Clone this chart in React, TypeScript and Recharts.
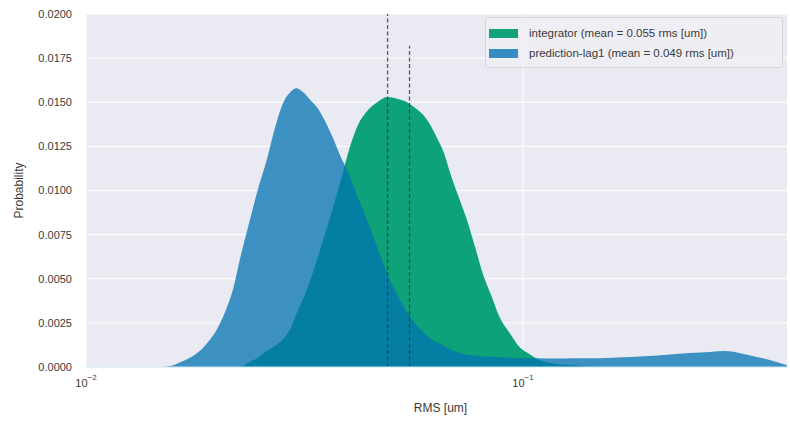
import React from 'react';
import {
  ComposedChart,
  Area,
  XAxis,
  YAxis,
  CartesianGrid,
  ReferenceLine,
  Legend,
} from 'recharts';

// RMS bin positions [um] (log-spaced-ish)
const rmsBins = [
  0.015, 0.0156, 0.0162, 0.0169, 0.0175, 0.0182, 0.019, 0.02, 0.0208, 0.0217,
  0.0225, 0.0237, 0.0247, 0.0259, 0.0271, 0.0283, 0.0294, 0.0303, 0.0313, 0.0327,
  0.0338, 0.0353, 0.0367, 0.0383, 0.0402, 0.0419, 0.044, 0.0464, 0.0489, 0.0515,
  0.0543, 0.0565, 0.059, 0.0614, 0.0635, 0.066, 0.0681, 0.0718, 0.0745, 0.0777,
  0.0809, 0.0848, 0.0885, 0.0934, 0.0984, 0.104, 0.109, 0.118, 0.131, 0.15,
  0.17, 0.185, 0.214, 0.241, 0.268, 0.29, 0.313, 0.339, 0.367, 0.402,
];

// prediction-lag1 probabilities
const predictionLag1 = [
  0, 0.00005, 0.0002, 0.0004, 0.0006, 0.0009, 0.0014, 0.0022, 0.0031, 0.0044,
  0.0061, 0.0083, 0.01, 0.0117, 0.0136, 0.015, 0.0156, 0.0158, 0.0156, 0.0151,
  0.0147, 0.0139, 0.013, 0.0119, 0.0108, 0.0096, 0.0083, 0.0068, 0.0053, 0.0041,
  0.0031, 0.0025, 0.002, 0.0016, 0.0014, 0.0012, 0.001, 0.0008, 0.0007, 0.00065,
  0.0006, 0.00058, 0.00055, 0.00052, 0.0005, 0.0005, 0.0005, 0.00048, 0.0005, 0.0005,
  0.00055, 0.0006, 0.0007, 0.0008, 0.00085, 0.0009, 0.0008, 0.0006, 0.0004, 0.0001,
];

// integrator probabilities
const integrator = [
  0, 0, 0, 0, 0, 0, 0, 0, 0, 0,
  0, 0.0003, 0.0005, 0.0009, 0.0012, 0.0016, 0.0022, 0.003, 0.0038, 0.005,
  0.0061, 0.0076, 0.009, 0.0106, 0.0125, 0.0137, 0.0145, 0.015, 0.0153, 0.0152,
  0.015, 0.0147, 0.0143, 0.0137, 0.013, 0.0121, 0.011, 0.0094, 0.0083, 0.0068,
  0.0053, 0.004, 0.0028, 0.0019, 0.0011, 0.0007, 0.0004, 0.0002, 0.0001, 0,
  0, 0, 0, 0, 0, 0, 0, 0, 0, 0,
];

const yTicks = [0, 0.0025, 0.005, 0.0075, 0.01, 0.0125, 0.015, 0.0175, 0.02];
const xTicks = [0.01, 0.1];
const meanIntegrator = 0.055;
const meanPrediction = 0.049;

const series = [
  { key: 'integrator', label: `integrator (mean = ${meanIntegrator} rms [um])`, color: '#029E73' },
  { key: 'prediction', label: `prediction-lag1 (mean = ${meanPrediction} rms [um])`, color: '#0173B2' },
];

const data = rmsBins.map((x, i) => ({
  x,
  integrator: integrator[i],
  prediction: predictionLag1[i],
}));

const FONT = '"Liberation Sans", Arial, Helvetica, sans-serif';
const TEXT = '#3a3a3a';

function LogTick({ x, y, payload }: any) {
  const exp = Math.round(Math.log10(payload.value));
  return (
    <text x={x} y={y + 20} textAnchor="middle" fill={TEXT} fontSize={11} fontFamily={FONT}>
      <tspan>10</tspan>
      <tspan dy={-7} fontSize={8}>{`\u2212${-exp}`}</tspan>
    </text>
  );
}

function LegendBox() {
  return (
    <div
      style={{
        background: 'rgba(238,238,244,0.9)',
        border: '1px solid #d6d6dc',
        borderRadius: 3,
        padding: '5px 6px 4px 3px',
        fontFamily: FONT,
        fontSize: 11.5,
        color: TEXT,
        boxSizing: 'border-box',
      }}
    >
      {series.map((s) => (
        <div key={s.key} style={{ display: 'flex', alignItems: 'center', height: 20 }}>
          <span
            style={{
              display: 'inline-block',
              width: 29,
              height: 9,
              background: s.color,
              opacity: s.key === 'prediction' ? 0.78 : 0.95,
              marginRight: 11,
            }}
          />
          <span>{s.label}</span>
        </div>
      ))}
    </div>
  );
}

function YLabel({ viewBox }: any) {
  const cx = 19;
  const cy = viewBox.y + viewBox.height / 2;
  return (
    <text
      x={cx}
      y={cy}
      transform={`rotate(-90 ${cx} ${cy})`}
      textAnchor="middle"
      dominantBaseline="central"
      fill={TEXT}
      fontSize={12}
      fontFamily={FONT}
    >
      Probability
    </text>
  );
}

export default function App() {
  return (
    <div style={{ width: 790, height: 423, background: '#fff' }}>
      <style>{`body{margin:0}`}</style>
      <ComposedChart
        width={790}
        height={423}
        data={data}
        margin={{ top: 14, right: 3, left: 0, bottom: 0 }}
      >
        <CartesianGrid
          fill="#eaeaf2"
          stroke="#ffffff"
          strokeWidth={1}
          horizontalValues={yTicks}
          verticalValues={xTicks}
        />
        <XAxis
          dataKey="x"
          type="number"
          scale="log"
          domain={[0.01, 0.402]}
          ticks={xTicks}
          allowDataOverflow
          height={56}
          tickSize={0}
          tickMargin={0}
          axisLine={{ stroke: '#c6e4f0', strokeWidth: 1 }}
          tick={<LogTick />}
          label={{
            value: 'RMS [um]',
            position: 'insideBottom',
            offset: 11,
            dx: 4,
            fill: TEXT,
            fontSize: 12,
            fontFamily: FONT,
          }}
        />
        <YAxis
          type="number"
          domain={[0, 0.02]}
          ticks={yTicks}
          width={86}
          tickSize={0}
          tickMargin={14}
          axisLine={false}
          tickFormatter={(v: number) => v.toFixed(4)}
          tick={{ fill: TEXT, fontSize: 11, fontFamily: FONT }}
          label={<YLabel />}
        />
        <Area
          type="monotone"
          dataKey="integrator"
          stroke="none"
          fill="#029E73"
          fillOpacity={0.95}
          isAnimationActive={false}
          activeDot={false}
        />
        <Area
          type="monotone"
          dataKey="prediction"
          stroke="none"
          fill="#0173B2"
          fillOpacity={0.75}
          isAnimationActive={false}
          activeDot={false}
        />
        <ReferenceLine
          segment={[
            { x: meanPrediction, y: 0 },
            { x: meanPrediction, y: 0.02 },
          ]}
          stroke="#34343f"
          strokeOpacity={0.8}
          strokeWidth={1.3}
          strokeDasharray="4 2.5"
        />
        <ReferenceLine
          segment={[
            { x: meanIntegrator, y: 0 },
            { x: meanIntegrator, y: 0.0182 },
          ]}
          stroke="#34343f"
          strokeOpacity={0.8}
          strokeWidth={1.3}
          strokeDasharray="4 2.5"
        />
        <Legend
          layout="horizontal"
          verticalAlign="middle"
          align="center"
          content={<LegendBox />}
          wrapperStyle={{ top: 17, left: 485, width: 298, height: 'auto' }}
        />
      </ComposedChart>
    </div>
  );
}
